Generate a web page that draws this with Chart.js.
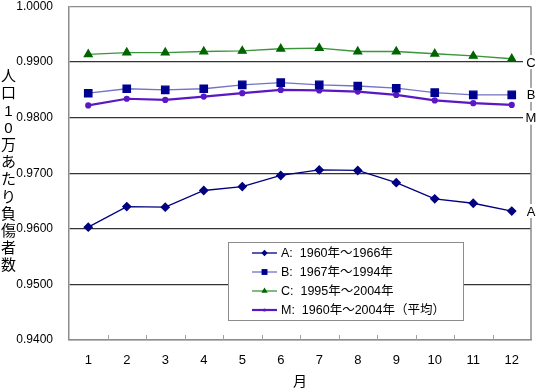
<!DOCTYPE html>
<html>
<head>
<meta charset="utf-8">
<script src="https://cdn.jsdelivr.net/npm/chart.js@4/dist/chart.umd.min.js"></script>
<style>
  html, body { margin: 0; padding: 0; background: #fff; }
</style>
</head>
<body>
<canvas id="chart" width="540" height="389"></canvas>
<script>
// ---- data ----
const months = ['1', '2', '3', '4', '5', '6', '7', '8', '9', '10', '11', '12'];
const seriesA = [0.9603, 0.9640, 0.9639, 0.9669, 0.9676, 0.9696, 0.9706, 0.9705, 0.9683, 0.9654, 0.9646, 0.9632];
const seriesB = [0.9844, 0.9852, 0.9850, 0.9852, 0.9859, 0.9863, 0.9859, 0.9857, 0.9853, 0.9845, 0.9841, 0.9841];
const seriesC = [0.9914, 0.9917, 0.9917, 0.9919, 0.9920, 0.9924, 0.9925, 0.9919, 0.9919, 0.9915, 0.9911, 0.9906];
const seriesM = [0.9822, 0.9834, 0.9832, 0.9838, 0.9844, 0.9850, 0.9849, 0.9847, 0.9841, 0.9831, 0.9826, 0.9823];
const seriesLabels = ['A:  1960年～1966年', 'B:  1967年～1994年', 'C:  1995年～2004年', 'M:  1960年～2004年（平均）'];
const endLabels = ['C', 'B', 'M', 'A'];
const endLabelValues = [0.9900, 0.9841, 0.9800, 0.9632];
const yTitle = '人口10万あたり負傷者数';
const xTitle = '月';

const FONT = "'Liberation Sans', 'Noto Sans CJK JP', sans-serif";
Chart.defaults.font.family = FONT;
Chart.defaults.color = '#000';

function marker(ctx, style, r, x, y, color) {
  ctx.save();
  ctx.fillStyle = color;
  ctx.beginPath();
  if (style === 'rectRot') {
    ctx.moveTo(x, y - r); ctx.lineTo(x + r, y); ctx.lineTo(x, y + r); ctx.lineTo(x - r, y);
  } else if (style === 'rect') {
    const s = r * Math.SQRT1_2;
    ctx.rect(x - s, y - s, 2 * s, 2 * s);
  } else if (style === 'triangle') {
    ctx.moveTo(x, y - r); ctx.lineTo(x + r * 0.87, y + r * 0.5); ctx.lineTo(x - r * 0.87, y + r * 0.5);
  } else {
    ctx.arc(x, y, r, 0, Math.PI * 2);
  }
  ctx.closePath();
  ctx.fill();
  ctx.restore();
}

const decor = {
  id: 'decor',
  beforeDatasetsDraw(chart) {
    const { ctx, chartArea: a, scales } = chart;
    ctx.save();
    // right border
    ctx.strokeStyle = '#8c8c8c';
    ctx.lineWidth = 1.5;
    ctx.beginPath();
    ctx.moveTo(a.right, a.top); ctx.lineTo(a.right, a.bottom);
    ctx.stroke();
    // inward tick marks between months
    const x = scales.x;
    ctx.lineWidth = 1;
    ctx.strokeStyle = '#a0a0a0';
    for (let i = 1; i < months.length; i++) {
      const px = Math.round((x.getPixelForValue(i - 1) + x.getPixelForValue(i)) / 2) + 0.5;
      ctx.beginPath();
      ctx.moveTo(px, a.bottom - 5); ctx.lineTo(px, a.bottom);
      ctx.stroke();
    }
    ctx.restore();
  },
  afterDatasetsDraw(chart) {
    const { ctx, scales } = chart;
    ctx.save();
    // legend box
    const bx = 228, by = 242, bw = 235, bh = 78;
    ctx.fillStyle = '#fff';
    ctx.fillRect(bx, by, bw, bh);
    ctx.strokeStyle = '#8c8c8c';
    ctx.lineWidth = 1;
    ctx.strokeRect(bx + 0.5, by + 0.5, bw, bh);
    ctx.font = '12.5px ' + FONT;
    ctx.textBaseline = 'middle';
    chart.data.datasets.forEach((ds, i) => {
      const y = by + 11 + i * 19;
      ctx.strokeStyle = ds.borderColor;
      ctx.lineWidth = ds.borderWidth;
      ctx.beginPath();
      ctx.moveTo(252, y); ctx.lineTo(277, y);
      ctx.stroke();
      marker(ctx, ds.pointStyle, ds.pointRadius * 0.8, 264.5, y, ds.pointBackgroundColor);
      ctx.fillStyle = '#000';
      ctx.textAlign = 'left';
      ctx.fillText(ds.label, 281, y + 1);
    });
    // labels at right edge
    const yS = scales.y;
    ctx.font = '13px ' + FONT;
    ctx.textAlign = 'center';
    endLabels.forEach((t, i) => {
      const py = yS.getPixelForValue(endLabelValues[i]);
      ctx.fillStyle = '#fff';
      ctx.fillRect(523, py - 7, 17, 14);
      ctx.fillStyle = '#000';
      ctx.fillText(t, 531, py + 1);
    });
    // stacked y title
    ctx.font = '15px ' + FONT;
    const chars = Array.from(yTitle);
    chars.forEach((c, i) => {
      ctx.fillText(c, 8.5, 77 + i * 17.2);
    });
    // x title
    ctx.font = '14px ' + FONT;
    ctx.fillText(xTitle, (chart.chartArea.left + chart.chartArea.right) / 2, 382);
    ctx.restore();
  }
};

new Chart(document.getElementById('chart'), {
  type: 'line',
  data: {
    labels: months,
    datasets: [
      {
        label: seriesLabels[0], data: seriesA,
        borderColor: '#000080', borderWidth: 1.3,
        pointStyle: 'rectRot', pointRadius: 4,
        pointBackgroundColor: '#000080', pointBorderColor: '#000080'
      },
      {
        label: seriesLabels[1], data: seriesB,
        borderColor: '#7272c8', borderWidth: 1.3,
        pointStyle: 'rect', pointRadius: 5.2,
        pointBackgroundColor: '#000090', pointBorderColor: '#000090'
      },
      {
        label: seriesLabels[2], data: seriesC,
        borderColor: '#3a963a', borderWidth: 1.3,
        pointStyle: 'triangle', pointRadius: 4.5,
        pointBackgroundColor: '#006400', pointBorderColor: '#006400'
      },
      {
        label: seriesLabels[3], data: seriesM,
        borderColor: '#5a18c4', borderWidth: 2.2,
        pointStyle: 'circle', pointRadius: 2,
        pointBackgroundColor: '#5a18c4', pointBorderColor: '#5a18c4'
      }
    ]
  },
  options: {
    responsive: false,
    animation: false,
    layout: { padding: { left: 0, right: 9, top: 6, bottom: 0 } },
    plugins: {
      legend: { display: false },
      tooltip: { enabled: false },
      title: { display: false }
    },
    scales: {
      x: {
        offset: true,
        grid: { display: false, drawTicks: false },
        border: { color: '#8c8c8c', width: 1.5 },
        ticks: { padding: 13, font: { size: 13 }, maxRotation: 0 },
        afterFit(scale) { scale.height = 49; scale.paddingLeft = 0; scale.paddingRight = 0; }
      },
      y: {
        min: 0.94,
        max: 1.0,
        ticks: {
          stepSize: 0.01,
          padding: 16,
          font: { size: 12 },
          callback: v => v.toFixed(4)
        },
        grid: {
          drawTicks: false,
          color: c => (c.tick && (Math.abs(c.tick.value - 1.0) < 1e-6 || Math.abs(c.tick.value - 0.94) < 1e-6)) ? '#8c8c8c' : '#333',
          lineWidth: 1.3
        },
        border: { color: '#8c8c8c', width: 1.5 },
        afterFit(scale) { scale.width = 69; scale.paddingTop = 0; scale.paddingBottom = 0; }
      }
    }
  },
  plugins: [decor]
});
</script>
</body>
</html>
